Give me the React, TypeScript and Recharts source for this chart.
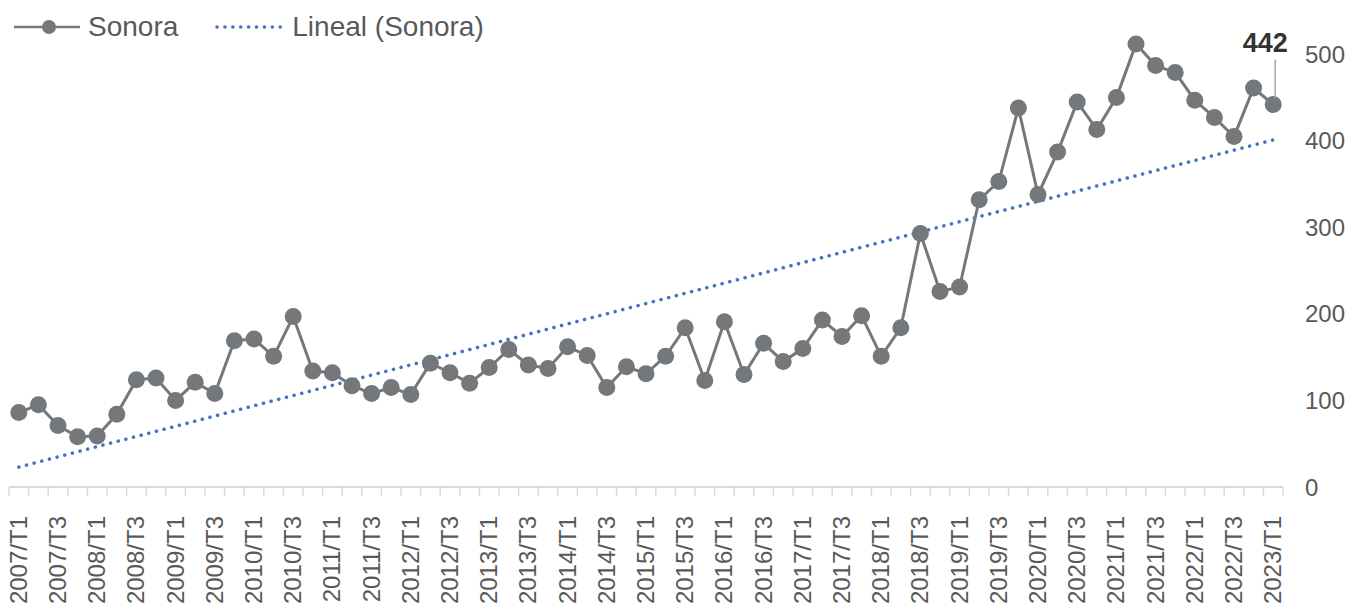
import { LineChart, Line, XAxis, YAxis, LabelList } from 'recharts';

const quarters = [
  '2007/T1', '2007/T2', '2007/T3', '2007/T4', '2008/T1', '2008/T2', '2008/T3', '2008/T4',
  '2009/T1', '2009/T2', '2009/T3', '2009/T4', '2010/T1', '2010/T2', '2010/T3', '2010/T4',
  '2011/T1', '2011/T2', '2011/T3', '2011/T4', '2012/T1', '2012/T2', '2012/T3', '2012/T4',
  '2013/T1', '2013/T2', '2013/T3', '2013/T4', '2014/T1', '2014/T2', '2014/T3', '2014/T4',
  '2015/T1', '2015/T2', '2015/T3', '2015/T4', '2016/T1', '2016/T2', '2016/T3', '2016/T4',
  '2017/T1', '2017/T2', '2017/T3', '2017/T4', '2018/T1', '2018/T2', '2018/T3', '2018/T4',
  '2019/T1', '2019/T2', '2019/T3', '2019/T4', '2020/T1', '2020/T2', '2020/T3', '2020/T4',
  '2021/T1', '2021/T2', '2021/T3', '2021/T4', '2022/T1', '2022/T2', '2022/T3', '2022/T4',
  '2023/T1',
];

const sonora = [
  86, 95, 71, 58, 59, 84, 124, 126, 100, 121, 108, 169, 171, 151, 197, 134,
  132, 117, 108, 115, 107, 143, 132, 120, 138, 159, 141, 137, 162, 152, 115, 139,
  131, 151, 184, 123, 191, 130, 166, 145, 160, 193, 174, 198, 151, 184, 293, 226,
  231, 332, 353, 438, 338, 387, 445, 413, 450, 512, 487, 479, 447, 427, 405, 461,
  442,
];

// trend line end points (first and last quarter)
const trendEnds = [23, 401];

const yTicks = [0, 100, 200, 300, 400, 500];

const GREY = '#75787b';
const BLUE = '#4472c4';
const TEXT = '#595959';
const FONT = '"Liberation Sans", Arial, Helvetica, sans-serif';

const last = quarters.length - 1;
const data = quarters.map((q, i) => ({
  q,
  sonora: sonora[i],
  trend: i === 0 ? trendEnds[0] : i === last ? trendEnds[1] : null,
}));

const W = 1346;
const H = 605;
const PLOT_LEFT = 9;
const PLOT_RIGHT = 1283;
const STEP = (PLOT_RIGHT - PLOT_LEFT) / quarters.length;

function QuarterTick(props: any) {
  const { x, y, payload, index } = props;
  const half = STEP / 2;
  return (
    <g>
      <line x1={x - half} x2={x - half} y1={y} y2={y + 9} stroke="#d9d9d9" strokeWidth={1.5} />
      {index === last && (
        <line x1={x + half} x2={x + half} y1={y} y2={y + 9} stroke="#d9d9d9" strokeWidth={1.5} />
      )}
      {index % 2 === 0 && (
        <text
          x={0}
          y={0}
          transform={`translate(${x + 8},${y + 29}) rotate(-90)`}
          textAnchor="end"
          fill={TEXT}
          fontSize={24}
          fontFamily={FONT}
        >
          {payload.value}
        </text>
      )}
    </g>
  );
}

function LastLabel(props: any) {
  const { x, y, value, index } = props;
  if (index !== last) return null;
  return (
    <g>
      <line x1={x + 2} x2={x + 2} y1={y - 45} y2={y - 6} stroke="#a6a6a6" strokeWidth={1.5} />
      <text
        x={x - 8}
        y={y - 53}
        textAnchor="middle"
        fill="#333333"
        fontSize={27}
        fontWeight="bold"
        fontFamily={FONT}
      >
        {value}
      </text>
    </g>
  );
}

function LegendBox() {
  return (
    <div
      style={{
        position: 'absolute',
        left: 0,
        top: 10,
        display: 'flex',
        alignItems: 'center',
        fontFamily: FONT,
        fontSize: 28,
        color: TEXT,
        lineHeight: '34px',
      }}
    >
      <svg width={70} height={20} style={{ marginLeft: 12 }}>
        <line x1={2} x2={68} y1={10} y2={10} stroke={GREY} strokeWidth={2.5} />
        <circle cx={37} cy={10} r={7} fill={GREY} />
      </svg>
      <span style={{ marginLeft: 6 }}>Sonora</span>
      <svg width={76} height={20} style={{ marginLeft: 36 }}>
        <line
          x1={3}
          x2={72}
          y1={10}
          y2={10}
          stroke={BLUE}
          strokeWidth={3.5}
          strokeDasharray="0.1 7.8"
          strokeLinecap="round"
        />
      </svg>
      <span style={{ marginLeft: 2 }}>Lineal (Sonora)</span>
    </div>
  );
}

export default function App() {
  return (
    <div style={{ position: 'absolute', left: 0, top: 0, width: W, height: H, background: '#fff' }}>
      <LineChart
        width={W}
        height={H}
        data={data}
        margin={{ top: 37, right: 0, bottom: 0, left: PLOT_LEFT }}
      >
        <XAxis
          dataKey="q"
          interval={0}
          height={118}
          padding={{ left: STEP / 2, right: STEP / 2 }}
          axisLine={{ stroke: '#d9d9d9', strokeWidth: 2 }}
          tickLine={false}
          tickSize={0}
          tickMargin={0}
          tick={<QuarterTick />}
        />
        <YAxis
          orientation="right"
          width={W - PLOT_RIGHT}
          domain={[0, 520]}
          ticks={yTicks}
          axisLine={false}
          tickLine={false}
          tickSize={0}
          tickMargin={22}
          tick={{ fill: TEXT, fontSize: 24, fontFamily: FONT }}
        />
        <Line
          dataKey="trend"
          connectNulls
          stroke={BLUE}
          strokeWidth={3.5}
          strokeDasharray="0.1 7.8"
          strokeLinecap="round"
          dot={false}
          activeDot={false}
          isAnimationActive={false}
        />
        <Line
          dataKey="sonora"
          stroke={GREY}
          strokeWidth={3}
          dot={{ r: 8.5, fill: GREY, stroke: GREY, strokeWidth: 0 }}
          activeDot={false}
          isAnimationActive={false}
        >
          <LabelList dataKey="sonora" content={<LastLabel />} />
        </Line>
      </LineChart>
      <LegendBox />
    </div>
  );
}
